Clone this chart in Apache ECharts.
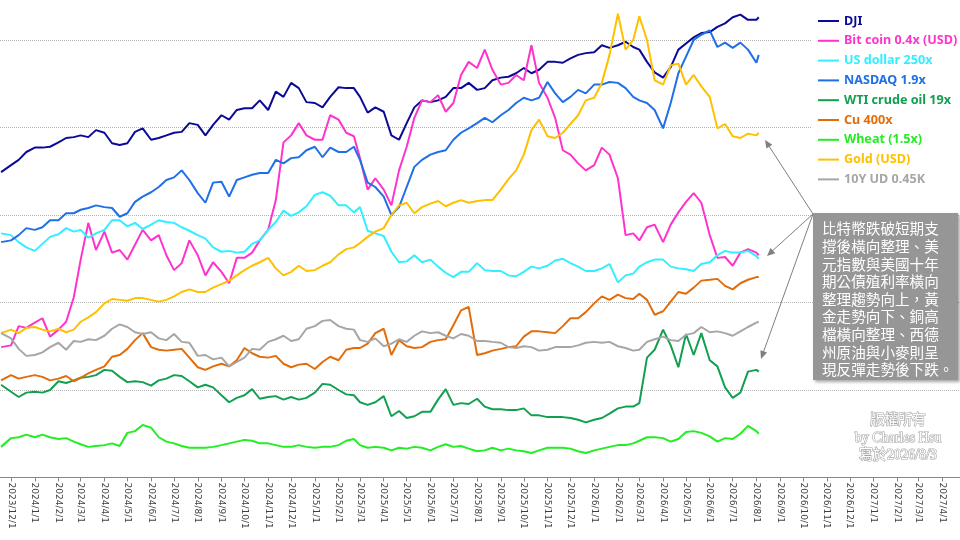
<!DOCTYPE html>
<html lang="zh-Hant">
<head>
<meta charset="UTF-8">
<title>DJI / NASDAQ / Bitcoin / Gold ...</title>
<script src="https://cdn.jsdelivr.net/npm/echarts@6.0.0/dist/echarts.min.js"></script>
<style>
  html, body { margin: 0; padding: 0; background: #fff; }
  #chart { width: 960px; height: 540px; }
</style>
</head>
<body>
<div id="chart"></div>
<script>
// sample dates: start, then the 1st/11th/21st of every month, then last two days
var dates = ['2023/11/18'];
for (var i = 0; i < 32; i++) {
  var yy = 2023 + Math.floor((11 + i) / 12);
  var mm = (11 + i) % 12 + 1;
  [1, 11, 21].forEach(function (d) { dates.push(yy + '/' + mm + '/' + d); });
}
dates.push('2026/8/1', '2026/8/4');

// values in thousands (already scaled as in the legend)
var dji = [34.9,
  35.7,36.3,37.2, 37.7,37.7,37.8, 38.3,38.8,38.9, 39.1,38.9,39.7, 39.4,38.2,38.0, 38.2,39.5,39.9,
  38.6,38.8,39.1, 39.4,39.5,40.5, 40.3,39.1,40.3, 41.4,40.9,42.0, 42.2,42.2,43.1, 42.0,44.1,43.5,
  45.1,44.5,42.9, 42.8,42.3,43.5, 44.6,44.5,44.5, 43.5,41.7,42.3, 41.8,39.1,38.6, 40.5,42.3,43.1,
  42.9,43.1,43.5, 44.5,44.5,45.1, 44.3,44.5,45.4, 45.7,45.8,46.2, 46.8,46.2,46.6, 47.5,47.5,47.4,
  47.9,48.3,48.5, 48.6,49.4,49.1, 49.4,49.8,49.2, 48.9,47.5,46.3, 45.7,46.9,48.9, 49.6,50.3,50.8,
  50.9,51.5,51.9, 52.6,52.9,52.3, 52.3, 52.6];
var bitcoin = [14.9,
  15.1,17.3,17.1, 17.7,18.2,16.1, 16.9,17.8,20.6, 24.9,29.1,26.0, 28.1,25.7,26.0, 24.9,26.6,28.3,
  27.1,27.7,25.4, 23.7,24.5,27.1, 25.4,23.1,24.6, 23.5,22.2,25.1, 25.1,25.7,27.1, 28.3,31.7,38.3,
  39.1,40.5,39.1, 38.6,38.6,41.4, 40.9,39.4,39.0, 36.5,32.9,34.2, 32.9,31.1,35.1, 37.8,41.1,43.1,
  42.9,43.7,41.8, 42.8,46.0,47.5, 46.8,48.9,46.6, 44.9,45.1,46.0, 45.4,49.4,45.1, 43.4,41.1,37.4,
  36.9,35.9,35.1, 35.7,37.7,36.9, 34.2,27.7,27.9, 27.1,28.6,28.9, 26.9,28.9,30.3, 31.5,32.5,31.4,
  27.7,25.1,25.2, 24.2,25.7,26.1, 25.7, 25.4];
var usDollar = [27.9,
  27.7,26.9,26.3, 25.9,26.7,27.5, 27.8,28.5,28.1, 28.3,27.4,27.9, 28.3,29.4,29.4, 28.7,29.1,28.4,
  28.9,29.4,29.2, 29.1,28.6,28.2, 27.7,27.3,26.3, 25.8,25.9,25.7, 25.8,26.7,27.1, 28.3,29.2,30.5,
  29.9,30.3,31.0, 32.3,32.6,32.2, 31.1,31.1,30.3, 30.9,28.2,27.9, 27.6,25.8,24.6, 24.7,25.4,24.6,
  24.9,24.1,23.4, 22.9,23.5,23.5, 24.5,23.7,23.6, 23.6,23.1,23.0, 23.5,24.1,23.9, 24.2,24.8,25.0,
  24.5,24.1,23.6, 23.6,23.9,24.4, 22.3,23.1,23.3, 24.1,24.6,24.9, 24.9,24.1,23.9, 23.8,23.6,24.4,
  24.6,25.4,25.9, 25.7,25.7,25.9, 25.3, 25.0];
var nasdaq = [26.9,
  27.1,27.7,28.5, 28.3,28.6,29.4, 29.4,30.2,30.2, 30.6,30.8,31.1, 30.9,30.8,29.8, 30.2,31.5,32.1,
  32.6,33.2,34.0, 34.3,35.1,34.0, 32.5,31.4,33.7, 33.8,32.1,34.0, 34.3,34.6,34.8, 34.8,36.3,35.9,
  36.5,36.6,37.4, 37.8,36.6,37.7, 37.2,37.2,37.8, 36.3,33.7,33.2, 32.1,30.0,30.9, 33.2,35.5,36.3,
  36.9,37.2,37.4, 38.6,39.4,39.9, 40.5,41.1,40.6, 41.4,42.0,42.8, 43.4,43.1,43.4, 45.2,43.9,42.9,
  43.5,44.3,43.9, 44.9,44.9,45.2, 45.1,44.5,43.5, 43.1,42.8,42.0, 39.9,42.8,46.2, 48.1,50.0,50.6,
  51.1,49.2,49.7, 49.1,49.7,48.9, 47.4, 48.3];
var wti = [10.6,
  9.8,9.2,9.7, 9.8,9.7,10.0, 11.0,10.8,11.1, 11.4,11.5,11.7, 12.3,12.2,11.5, 10.9,11.0,10.9,
  10.5,11.1,11.3, 11.7,11.6,11.0, 10.3,10.6,10.3, 9.4,8.6,9.1, 9.4,10.1,9.0, 9.2,9.3,8.9,
  9.2,8.9,9.1, 9.7,10.7,10.6, 10.0,9.5,9.4, 8.6,8.3,8.6, 9.3,7.0,7.6, 6.8,7.0,7.5,
  7.5,8.9,10.1, 8.3,8.5,8.4, 9.0,8.1,7.8, 7.8,7.7,7.7, 7.9,7.1,7.1, 6.9,6.9,6.9,
  6.8,6.6,6.3, 6.6,6.8,7.3, 7.9,8.1,8.1, 8.5,13.7,14.6, 16.9,15.1,12.6, 16.4,14.0,16.5,
  13.4,12.7,10.3, 9.1,9.7,12.1, 12.3, 12.1];
var copper = [11.1,
  11.7,11.3,11.5, 11.7,11.5,11.1, 11.3,11.6,11.0, 11.4,11.9,12.3, 12.7,13.8,14.0, 14.7,15.7,16.5,
  14.9,14.6,14.5, 14.6,14.7,13.7, 12.6,12.3,12.7, 13.0,12.7,13.4, 14.8,14.2,13.8, 13.7,13.9,13.0,
  12.6,12.9,13.0, 12.4,13.2,13.8, 13.4,14.6,14.8, 14.8,15.3,16.5, 17.0,14.0,15.7, 15.0,14.8,14.9,
  15.5,15.7,15.8, 17.4,19.1,19.5, 14.0,14.2,14.5, 14.7,14.9,15.0, 16.1,16.7,16.7, 16.6,16.5,17.3,
  18.2,18.2,18.9, 19.9,20.7,20.3, 20.9,20.5,20.4, 21.0,20.3,18.6, 19.0,20.1,21.2, 21.0,21.7,22.5,
  22.6,22.7,21.9, 21.5,22.2,22.6, 22.9, 22.9];
var wheat = [3.5,
  4.5,4.6,4.9, 4.6,4.9,4.6, 4.4,4.5,4.1, 3.8,3.5,3.6, 3.7,3.9,3.6, 5.1,5.3,6.0,
  5.7,4.6,4.1, 3.9,3.6,3.4, 3.4,3.4,3.5, 3.7,3.9,4.1, 4.3,4.2,3.9, 3.9,3.7,3.5,
  3.5,3.7,3.5, 3.4,3.5,3.5, 3.7,4.2,4.4, 3.7,3.4,3.5, 3.4,3.1,3.4, 3.3,3.5,3.4,
  3.1,3.5,3.8, 3.5,3.6,3.3, 3.0,3.1,3.4, 3.1,3.3,3.1, 3.0,2.8,3.1, 3.4,3.4,3.4,
  3.3,3.0,2.8, 3.1,3.3,3.5, 3.7,3.7,3.9, 4.2,4.6,4.6, 4.5,4.1,4.4, 5.2,5.3,5.1,
  4.7,4.1,4.5, 4.4,5.0,5.9, 5.3, 5.0];
var gold = [16.5,
  16.9,16.5,17.1, 17.2,16.9,16.7, 17.0,16.6,16.9, 17.8,18.3,18.9, 19.9,20.4,20.3, 20.2,20.5,20.5,
  20.3,20.1,20.3, 20.7,21.2,21.5, 21.2,21.2,21.7, 22.1,22.5,23.1, 23.7,24.2,24.6, 25.1,23.9,23.1,
  23.5,24.2,23.6, 23.7,24.2,24.6, 25.5,26.1,26.3, 26.8,27.5,28.1, 28.5,30.0,31.1, 31.4,30.2,30.9,
  31.3,31.6,31.0, 31.4,31.7,31.4, 31.6,31.7,31.7, 32.9,34.1,35.1, 36.9,39.7,40.9, 39.0,38.8,39.4,
  40.4,41.4,43.1, 43.4,45.1,48.3, 53.0,48.9,50.0, 52.7,50.0,45.4, 44.9,47.1,47.3, 44.9,46.0,44.7,
  43.5,39.9,40.4, 39.0,38.8,39.3, 39.1, 39.4];
var tenYear = [16.5,
  15.9,14.7,13.9, 14.0,14.3,14.9, 15.4,14.6,15.6, 15.5,15.8,15.7, 16.2,17.0,17.5, 17.2,16.6,16.4,
  16.6,15.9,15.7, 16.4,15.5,15.4, 13.9,14.0,13.5, 13.7,12.7,13.2, 13.7,14.7,14.6, 15.5,15.8,16.2,
  15.6,15.8,17.0, 17.3,17.9,18.0, 17.3,17.0,16.9, 15.7,15.5,15.9, 15.0,15.3,15.8, 15.5,16.2,16.7,
  16.5,16.6,16.2, 15.9,16.4,16.2, 15.6,15.6,15.5, 15.4,14.9,14.8, 15.0,14.9,14.5, 14.6,14.9,14.9,
  14.9,15.1,15.4, 15.5,15.4,15.5, 15.0,14.8,14.5, 14.6,15.5,15.8, 16.1,15.7,15.6, 16.3,16.5,17.2,
  16.6,16.7,16.5, 16.2,16.7,17.2, 17.7, 17.8];

var names = ['DJI', 'Bit coin 0.4x (USD)', 'US dollar 250x', 'NASDAQ 1.9x', 'WTI crude oil 19x',
             'Cu 400x', 'Wheat (1.5x)', 'Gold (USD)', '10Y UD 0.45K'];
var colors = ['#0a0a96', '#ff33cc', '#33eeff', '#1f6fe6', '#10a050',
              '#e36c0a', '#22ee22', '#ffc000', '#a6a6a6'];
var values = [dji, bitcoin, usDollar, nasdaq, wti, copper, wheat, gold, tenYear];
var gridValues = [10, 20, 30, 40, 50];
var yTop = 54.571;   // the picture is cut just above 54.5k

var noteText = ['比特幣跌破短期支', '撐後橫向整理、美', '元指數與美國十年', '期公債殖利率橫向',
  '整理趨勢向上，黃', '金走勢向下、銅高', '檔橫向整理、西德', '州原油與小麥則呈', '現反彈走勢後下跌。'];

function pair(vals) {
  return vals.map(function (v, i) { return [dates[i], v]; });
}
function fmtDate(v) {
  var d = new Date(v);
  return d.getFullYear() + '/' + (d.getMonth() + 1) + '/' + d.getDate();
}

var chart = echarts.init(document.getElementById('chart'));
var DAY = 86400000;

var series = names.map(function (n, i) {
  return {
    name: n, type: 'line', data: pair(values[i]), z: 3,
    showSymbol: false, symbol: 'none',
    lineStyle: { color: colors[i], width: 2 },
    itemStyle: { color: colors[i] }
  };
});
// dotted horizontal gridlines
series.push({
  name: 'grid', type: 'line', data: [], z: 1,
  markLine: {
    z: 1, silent: true, symbol: ['none', 'none'], label: { show: false },
    lineStyle: { color: '#b4b4b4', type: 'dotted', width: 1 },
    data: gridValues.map(function (v) { return { yAxis: v }; })
  }
});

chart.setOption({
  animation: false,
  backgroundColor: '#fff',
  grid: { left: 0, right: 0, top: 0, bottom: 62.5 },
  xAxis: {
    type: 'time',
    min: new Date(2023, 10, 16, 14).getTime(),
    max: new Date(2027, 3, 24).getTime(),
    splitNumber: 41,
    minInterval: 28 * DAY,
    maxInterval: 31 * DAY,
    axisLine: { lineStyle: { color: '#868686', width: 1 } },
    axisTick: { show: true, length: 4, lineStyle: { color: '#868686' } },
    axisLabel: {
      rotate: -90, margin: 5, color: '#404040', fontSize: 9,
      fontFamily: 'DejaVu Sans', formatter: fmtDate,
      showMinLabel: false, showMaxLabel: false
    },
    splitLine: { show: false }
  },
  yAxis: {
    type: 'value', min: 0, max: yTop,
    axisLine: { show: false }, axisTick: { show: false }, axisLabel: { show: false },
    splitLine: { show: false }
  },
  legend: {
    orient: 'vertical', left: 812, top: 9, z: 10,
    icon: 'rect', itemWidth: 21, itemHeight: 2, itemGap: 5.8,
    backgroundColor: '#fff', padding: [5, 4, 6, 6],
    selectedMode: false,
    textStyle: { fontFamily: 'Noto Sans', fontWeight: 'bold', fontSize: 12.6, lineHeight: 14 },
    data: names.map(function (n, i) { return { name: n, textStyle: { color: colors[i] } }; })
  },
  series: series,
  graphic: [
    { type: 'line', z: 50, shape: { x1: 813, y1: 214, x2: 767, y2: 143 }, style: { stroke: '#7f7f7f', lineWidth: 1 } },
    { type: 'polygon', z: 50, shape: { points: [[765, 140], [772.3, 144.8], [766.4, 148.6]] }, style: { fill: '#7f7f7f' } },
    { type: 'line', z: 50, shape: { x1: 813, y1: 214, x2: 770, y2: 253 }, style: { stroke: '#7f7f7f', lineWidth: 1 } },
    { type: 'polygon', z: 50, shape: { points: [[767, 256], [775.3, 253.2], [770.5, 248.0]] }, style: { fill: '#7f7f7f' } },
    { type: 'line', z: 50, shape: { x1: 813, y1: 214, x2: 762, y2: 356 }, style: { stroke: '#7f7f7f', lineWidth: 1 } },
    { type: 'polygon', z: 50, shape: { points: [[761, 359], [767.0, 352.6], [760.4, 350.3]] }, style: { fill: '#7f7f7f' } },
    {
      type: 'rect', z: 60, shape: { x: 813, y: 213, width: 145, height: 167 },
      style: { fill: '#969696', shadowBlur: 3, shadowOffsetX: 2, shadowOffsetY: 2, shadowColor: 'rgba(0,0,0,0.35)' }
    },
    {
      type: 'text', z: 61, x: 822, y: 220,
      style: {
        text: noteText.join('\n'), fill: '#ffffff',
        font: '14.6px "Noto Sans CJK TC"', lineHeight: 17.6,
        textVerticalAlign: 'top'
      }
    },
    {
      type: 'text', z: 61, x: 898, y: 412,
      style: {
        text: '版權所有\nby Charles Hsu\n寫於2026/8/3',
        font: '14px "Liberation Serif", "Noto Sans CJK TC"', lineHeight: 17.5,
        textAlign: 'center', fill: '#ffffff', stroke: '#a6a6a6', lineWidth: 1.2
      }
    }
  ]
});
</script>
</body>
</html>
